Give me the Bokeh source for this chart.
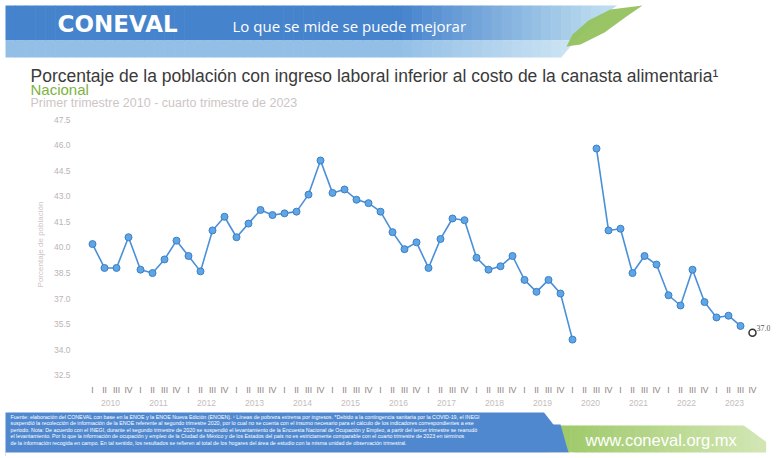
from bokeh.plotting import figure
from bokeh.models import Range1d, FactorRange, FixedTicker, NumeralTickFormatter, ColumnDataSource
from bokeh.layouts import column
from bokeh.embed import file_html
from bokeh.resources import INLINE
from bokeh.core.properties import value

# ---------------- data ----------------
years = [str(y) for y in range(2010, 2024)]
quarters = ["I", "II", "III", "IV"]
pct = [40.2, 38.8, 38.8, 40.6, 38.7, 38.5, 39.3, 40.4, 39.5, 38.6,
       41.0, 41.8, 40.6, 41.4, 42.2, 41.9, 42.0, 42.1, 43.1, 45.1,
       43.2, 43.4, 42.8, 42.6, 42.1, 40.9, 39.9, 40.3, 38.8, 40.5,
       41.7, 41.6, 39.4, 38.7, 38.9, 39.5, 38.1, 37.4, 38.1, 37.3,
       34.6, None, 45.8, 41.0, 41.1, 38.5, 39.5, 39.0, 37.2, 36.6,
       38.7, 36.8, 35.9, 36.0, 35.4]
last_factor = ("2023", "IV")
last_value = 35.0
last_label = "37.0"
y_ticks = [32.5, 34.0, 35.5, 37.0, 38.5, 40.0, 41.5, 43.0, 44.5, 46.0, 47.5]

title_text = "Porcentaje de la población con ingreso laboral inferior al costo de la canasta alimentaria\u00b9"
region_text = "Nacional"
subtitle_text = "Primer trimestre 2010 - cuarto trimestre de 2023"
y_label = "Porcentaje de población"
footer_lines = [
    "Fuente: elaboración del CONEVAL con base en la ENOE y la ENOE Nueva Edición (ENOEN). \u00b9 Líneas de pobreza extrema por ingresos. *Debido a la contingencia sanitaria por la COVID-19, el INEGI",
    "suspendió la recolección de información de la ENOE referente al segundo trimestre 2020, por lo cual no se cuenta con el insumo necesario para el cálculo de los indicadores correspondientes a ese",
    "periodo. Nota: De acuerdo con el INEGI, durante el segundo trimestre de 2020 se suspendió el levantamiento de la Encuesta Nacional de Ocupación y Empleo, a partir del tercer trimestre se reanudó",
    "el levantamiento. Por lo que la información de ocupación y empleo de la Ciudad de México y de los Estados del país no es estrictamente comparable con el cuarto trimestre de 2023 en términos",
    "de la información recogida en campo. En tal sentido, los resultados se refieren al total de los hogares del área de estudio con la misma unidad de observación trimestral.",
]
url_text = "www.coneval.org.mx"

W = 778

def deco(height, y0, y1):
    f = figure(width=W, height=height, x_range=Range1d(0, W), y_range=Range1d(y1, y0),
               output_backend="svg", toolbar_location=None, min_border=0, frame_align=False)
    f.axis.visible = False
    f.grid.grid_line_color = None
    f.outline_line_color = None
    f.background_fill_color = "white"
    return f

def lerp(c1, c2, t):
    a = [int(c1[i:i + 2], 16) for i in (1, 3, 5)]
    b = [int(c2[i:i + 2], 16) for i in (1, 3, 5)]
    return "#%02x%02x%02x" % tuple(int(round(a[k] + (b[k] - a[k]) * t)) for k in range(3))

# ---------------- header ----------------
h = deco(108, 0, 108)
n = 64
x_left, x_right = 5, 640
step = (x_right - x_left) / n
for i in range(n):
    xa = x_left + i * step
    xc = xa + step / 2
    if xc < 400:
        ct, cb = "#4683cd", "#93bfe7"
    else:
        t = min(1.0, (xc - 400) / 200)
        ct = lerp("#4683cd", "#bcdcef", t)
        cb = lerp("#93bfe7", "#d6eaf5", t)
    h.quad(left=xa, right=xa + step + 0.6, top=5, bottom=40, fill_color=ct, line_color=None)
    h.quad(left=xa, right=xa + step + 0.6, top=40, bottom=57, fill_color=cb, line_color=None)
# cut right edge of banner
h.patch([618, 700, 700, 560, 575, 595], [4, 4, 58, 58, 40, 20], fill_color="white", line_color=None)
# green leaf
h.patch([642, 610, 588, 572, 566, 580, 604, 626], [5, 9, 20, 34, 46, 44, 32, 16],
        fill_color="#95c25e", line_color=None, fill_alpha=0.95)
h.text(x=[57], y=[23], text=["CONEVAL"], text_color="white", text_font=value("DejaVu Sans"),
       text_font_size="23px", text_font_style="bold", text_baseline="middle")
h.text(x=[232], y=[25], text=["Lo que se mide se puede mejorar"], text_color="white",
       text_font=value("Open Sans"), text_font_size="15px", text_baseline="middle")
h.text(x=[30], y=[75], text=[title_text], text_color="#3a3a3a", text_font=value("Liberation Sans"),
       text_font_size="17.5px", text_baseline="middle")
h.text(x=[30], y=[89], text=[region_text], text_color="#7cb342", text_font=value("Liberation Sans"),
       text_font_size="15px", text_baseline="middle")
h.text(x=[30], y=[102], text=[subtitle_text], text_color="#cdc5c5", text_font=value("Liberation Sans"),
       text_font_size="12.5px", text_baseline="middle")

# ---------------- main chart ----------------
factors = [(y, q) for y in years for q in quarters]
pad_factor = (" ", " ")  # empty slot at the right so the end label has room
xs = factors[:len(pct)]
ys = [float("nan") if v is None else v for v in pct]
src = ColumnDataSource(dict(x=xs, y=ys))

p = figure(width=W, height=304,
           x_range=FactorRange(*(factors + [pad_factor]), factor_padding=0, group_padding=0, range_padding=0),
           y_range=Range1d(32.32, 48.03),
           output_backend="svg", toolbar_location=None, frame_align=False,
           min_border_left=86, min_border_right=8, min_border_top=2, min_border_bottom=34)
p.outline_line_color = None
p.grid.grid_line_color = None
p.background_fill_color = "white"

p.line("x", "y", source=src, line_color="#4a90d9", line_width=1.6)
p.scatter("x", "y", source=src, size=7, fill_color="#5ea6e6", line_color="#3c7fc4", line_width=1)
p.scatter(x=[last_factor], y=[last_value], size=7, fill_color="white", line_color="#333333", line_width=1.5)
p.text(x=[last_factor], y=[last_value], text=[last_label], x_offset=4, y_offset=-2,
       text_font_size="8px", text_color="#555555", text_font=value("Liberation Serif"),
       text_baseline="bottom")

p.yaxis.ticker = FixedTicker(ticks=y_ticks)
p.yaxis.formatter = NumeralTickFormatter(format="0.0")
p.yaxis.axis_label = y_label
p.yaxis.axis_label_text_font_size = "8px"
p.yaxis.axis_label_text_font_style = "normal"
p.yaxis.axis_label_text_color = "#cbc3c3"
p.yaxis.axis_label_standoff = 6
p.yaxis.major_label_text_font_size = "8.5px"
p.yaxis.major_label_text_color = "#bdb3b3"
p.yaxis.major_label_standoff = 10
p.yaxis.axis_line_color = None
p.yaxis.major_tick_line_color = None
p.yaxis.minor_tick_line_color = None

p.xaxis.axis_line_color = None
p.xaxis.major_tick_line_color = None
p.xaxis.minor_tick_line_color = None
p.xaxis.separator_line_color = None
p.xaxis.major_label_text_font_size = "8.5px"
p.xaxis.major_label_text_color = "#8a8080"
p.xaxis.major_label_standoff = 0
p.xaxis.group_text_font_size = "8.5px"
p.xaxis.group_text_color = "#c4bcbc"
p.xaxis.group_text_font_style = "normal"

# ---------------- footer ----------------
ft = deco(44, 412, 456)
ft.patch([5, 542, 556, 572, 5], [410, 410, 428, 458, 458], fill_color="#4f88cf", line_color=None)
m = 30
gx0, gx1 = 548, 765
gstep = (gx1 - gx0) / m
for i in range(m):
    xa = gx0 + i * gstep
    ft.quad(left=xa, right=xa + gstep + 0.6, top=425, bottom=452,
            fill_color=lerp("#9cc865", "#d2e6b4", i / (m - 1)), line_color=None)
ft.patch([540, 560, 568, 540], [424, 424, 452, 452], fill_color="#4f88cf", line_color=None)
ft.patch([742, 780, 780], [424, 424, 452], fill_color="white", line_color=None)
ft.patch([5, 572, 578, 5], [452, 452, 458, 458], fill_color="white", line_color=None)
for i, line in enumerate(footer_lines):
    ft.text(x=[10], y=[416 + i * 6.5], text=[line], text_color="white", text_font=value("Liberation Sans"),
            text_font_size="5.3px", text_baseline="middle")
ft.text(x=[585], y=[439], text=[url_text], text_color="white", text_font=value("Liberation Sans"),
        text_font_size="16.5px", text_baseline="middle")

layout = column(h, p, ft, spacing=0)
open("out.html", "w").write(file_html(layout, INLINE))
